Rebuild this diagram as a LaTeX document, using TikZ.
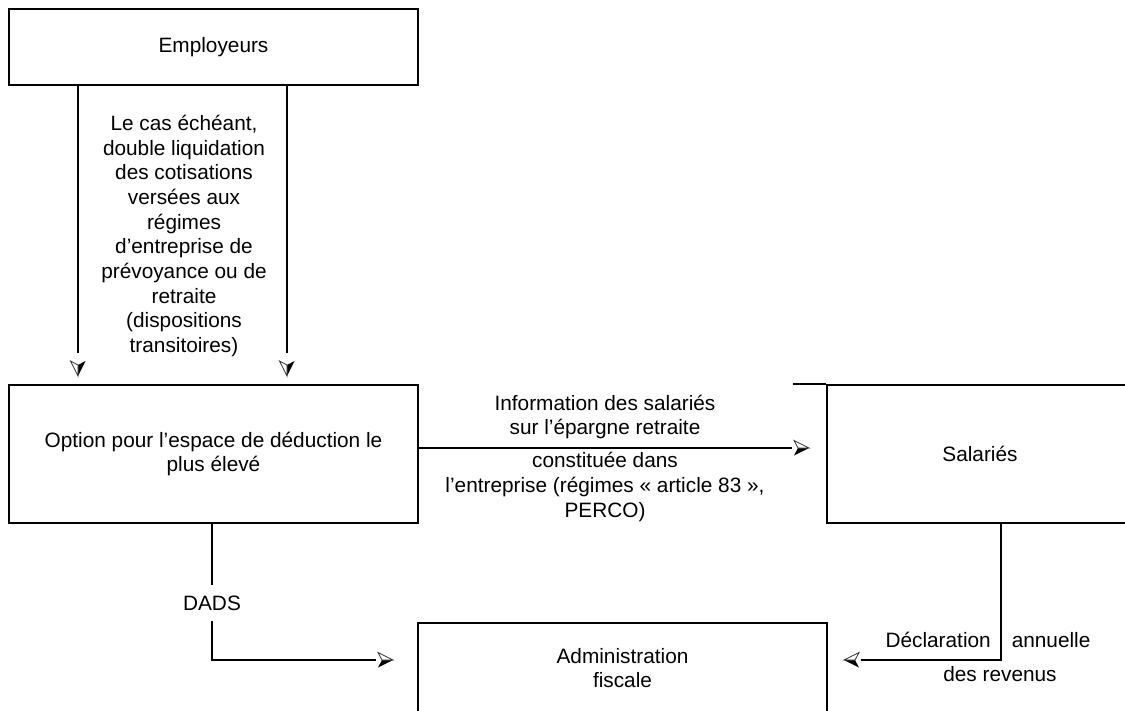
\documentclass[tikz,border=0pt]{standalone}
\usepackage{fontspec}
\setmainfont{Liberation Sans}
\usetikzlibrary{calc}

% half-shaded kite arrow head; #1 = "-" puts the black half on the -y side
\newcommand\myHKshape[1]{%
  \pgfsetdash{}{0pt}%
  \pgfsetmiterjoin
  \pgfsetlinewidth{0.8pt}%
  \pgfpathmoveto{\pgfpointorigin}%
  \pgfpathlineto{\pgfpoint{-15pt}{#17.5pt}}%
  \pgfpathlineto{\pgfpoint{-11pt}{0pt}}%
  \pgfpathclose
  \pgfsetfillcolor{black}%
  \pgfusepathqfill
  \pgfpathmoveto{\pgfpointorigin}%
  \pgfpathlineto{\pgfpoint{-15pt}{-#17.5pt}}%
  \pgfpathlineto{\pgfpoint{-11pt}{0pt}}%
  \pgfpathclose
  \pgfsetfillcolor{white}%
  \pgfsetstrokecolor{black!80}%
  \pgfusepathqfillstroke
}
\pgfdeclarearrow{
  name=hkR,
  setup code={
    \pgfarrowssettipend{0pt}
    \pgfarrowssetbackend{-15pt}
    \pgfarrowssetlineend{-17pt}
    \pgfarrowshullpoint{0pt}{0pt}
    \pgfarrowsupperhullpoint{-15pt}{7.5pt}
  },
  drawing code={\myHKshape{-}},
}
\pgfdeclarearrow{
  name=hkB,
  setup code={
    \pgfarrowssettipend{0pt}
    \pgfarrowssetbackend{-15pt}
    \pgfarrowssetlineend{-17pt}
    \pgfarrowshullpoint{0pt}{0pt}
    \pgfarrowsupperhullpoint{-15pt}{7.5pt}
  },
  drawing code={\myHKshape{}},
}
\pgfdeclarearrow{
  name=hkD,
  setup code={
    \pgfarrowssettipend{0pt}
    \pgfarrowssetbackend{-15pt}
    \pgfarrowssetlineend{-23pt}
    \pgfarrowshullpoint{0pt}{0pt}
    \pgfarrowsupperhullpoint{-15pt}{7.5pt}
  },
  drawing code={\myHKshape{}},
}

\begin{document}
\begin{tikzpicture}[
  x=1pt, y=-1pt,
  font=\fontsize{20.8}{24.7}\selectfont,
  box/.style={draw, line width=2pt, rectangle, align=center, inner sep=0pt},
  conn/.style={line width=2pt},
  lbl/.style={align=center, inner sep=0pt},
]
\useasboundingbox (0,0) rectangle (1125,710);

% boxes
\node[box, minimum width=409pt, minimum height=76pt] (emp) at (213.5,47) {Employeurs};
\node[box, minimum width=409pt, minimum height=138pt] (opt) at (213.5,454)
  {Option pour l’espace de déduction le\\plus élevé};
\node[box, minimum width=306pt, minimum height=138pt] (sal) at (980,454) {Salariés};
\node[box, minimum width=409pt, minimum height=90pt] (adm) at (622.5,668)
  {Administration\\fiscale};

% helper coordinates
\coordinate (xl) at (78,0);
\coordinate (xr) at (287,0);
\coordinate (yh) at (0,448);
\coordinate (xd) at (212,0);
\coordinate (yb) at (0,660);
\coordinate (xs) at (1001,0);
\coordinate (ext) at (793,0);

% connectors
\draw[conn, -hkD, shorten >=8pt] (emp.south -| xl) -- (opt.north -| xl);
\draw[conn, -hkD, shorten >=8pt] (emp.south -| xr) -- (opt.north -| xr);
\draw[conn, -hkR, shorten >=17pt] (opt.east |- yh) -- (sal.west |- yh);
\draw[conn, -hkR, shorten >=24pt] (opt.south -| xd) |- (adm.west |- yb);
\draw[conn, -hkB, shorten >=16pt] (sal.south -| xs) |- (adm.east |- yb);
\draw[conn] (sal.north west) -- (sal.north west -| ext);

% labels
\node[lbl] (lemp) at (184,236) {Le cas échéant,\\double liquidation\\des cotisations\\versées aux\\régimes\\d’entreprise de\\prévoyance ou de\\retraite\\(dispositions\\transitoires)};
\node[lbl] (linfo) at (605,417) {Information des salariés\\sur l’épargne retraite};
\node[lbl] (lcons) at (605,487) {constituée dans\\l’entreprise (régimes «~article 83~»,\\PERCO)};
\node[lbl, fill=white, inner xsep=4pt, inner ysep=11pt] (ldads) at (212,603) {DADS};
\node[lbl] (ldecl) at (988,657) {Déclaration\hspace{21pt}annuelle\\[10pt]\hspace*{24pt}des revenus};
\end{tikzpicture}
\end{document}
